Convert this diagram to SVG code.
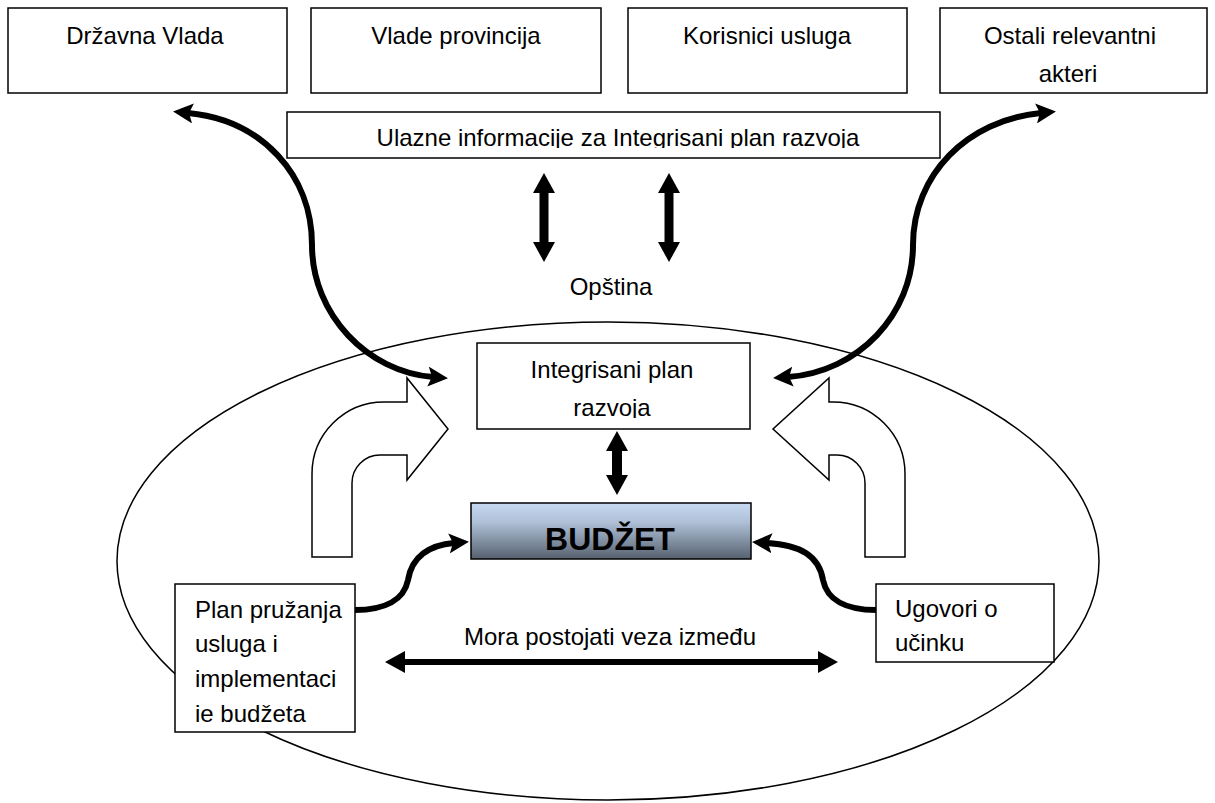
<svg xmlns="http://www.w3.org/2000/svg" width="1215" height="803" viewBox="0 0 1215 803">
<style>
.box{fill:#fff;stroke:#000;stroke-width:1.5}
.t{font-family:"Liberation Sans",Arial,sans-serif;font-size:24px;fill:#000}
.c{text-anchor:middle}
.thick{fill:none;stroke:#000;stroke-width:6}
.blk{fill:#fff;stroke:#000;stroke-width:1.5;stroke-linejoin:miter}
.ell{fill:none;stroke:#000;stroke-width:1.5}
</style>
<defs>
<marker id="ah" markerUnits="userSpaceOnUse" markerWidth="20" markerHeight="20" viewBox="0 0 20 20" refX="5" refY="10" orient="auto-start-reverse">
<path d="M0,0 L20,10 L0,20 L4,10 Z" fill="#000"/>
</marker>
<marker id="dv" markerUnits="userSpaceOnUse" markerWidth="20" markerHeight="22" viewBox="0 0 20 22" refX="2" refY="11" orient="auto-start-reverse">
<path d="M0,0 L20,11 L0,22 Z" fill="#000"/>
</marker>
<linearGradient id="bg" x1="0" y1="0" x2="0" y2="1">
<stop offset="0" stop-color="#c6d9f1"/>
<stop offset="0.35" stop-color="#aebfd6"/>
<stop offset="1" stop-color="#56616f"/>
</linearGradient>
<clipPath id="clipU"><rect x="287" y="112" width="653" height="36"/></clipPath>
<clipPath id="clipI"><rect x="477" y="343" width="273" height="75"/></clipPath>
</defs>

<g id="opstina-ellipse">
<ellipse class="ell" cx="608" cy="561" rx="491" ry="239"/>
<text class="t c" x="611" y="295">Opština</text>
</g>

<g id="drzavna-vlada">
<rect class="box" x="8" y="8" width="279" height="85"/>
<text class="t c" x="145" y="44">Državna Vlada</text>
</g>
<g id="vlade-provincija">
<rect class="box" x="311" y="8" width="290" height="85"/>
<text class="t c" x="456" y="44">Vlade provincija</text>
</g>
<g id="korisnici-usluga">
<rect class="box" x="628" y="8" width="279" height="85"/>
<text class="t c" x="767" y="44">Korisnici usluga</text>
</g>
<g id="ostali-akteri">
<rect class="box" x="940" y="8" width="267" height="85"/>
<text class="t c" x="1070" y="44">Ostali relevantni</text>
<text class="t c" x="1068" y="82">akteri</text>
</g>

<g id="ulazne-informacije">
<rect class="box" x="287" y="112" width="653" height="46"/>
<text class="t c" x="618" y="146" clip-path="url(#clipU)">Ulazne informacije za Integrisani plan razvoja</text>
</g>

<g id="integrisani-plan">
<rect class="box" x="477" y="343" width="273" height="86"/>
<g clip-path="url(#clipI)">
<text class="t c" x="612" y="378">Integrisani plan</text>
<text class="t c" x="612" y="416">razvoja</text>
</g>
</g>

<g id="budzet">
<rect x="471" y="503" width="280" height="56" fill="url(#bg)" stroke="#000" stroke-width="1.5"/>
<text x="610" y="550" text-anchor="middle" font-family="'Liberation Sans',Arial,sans-serif" font-weight="bold" font-size="32" fill="#000">BUDŽET</text>
</g>

<g id="plan-pruzanja">
<rect class="box" x="175" y="584" width="180" height="148"/>
<text class="t" x="195" y="618">Plan pružanja</text>
<text class="t" x="195" y="652">usluga i</text>
<text class="t" x="195" y="687">implementaci</text>
<text class="t" x="195" y="722">ie budžeta</text>
</g>

<g id="ugovori">
<rect class="box" x="876" y="584" width="178" height="78"/>
<text class="t" x="895" y="617">Ugovori o</text>
<text class="t" x="895" y="651">učinku</text>
</g>

<g id="mora-label">
<text class="t c" x="610" y="645">Mora postojati veza između</text>
</g>

<g id="connectors">
<path class="thick" d="M188,113 C262,120 312,175 312,245 C312,315 368,372 433,377" marker-start="url(#ah)" marker-end="url(#ah)"/>
<path class="thick" d="M1041,113 C967,120 913,175 913,245 C913,315 858,372 788,377" marker-start="url(#ah)" marker-end="url(#ah)"/>
<path class="thick" d="M355,610 C385,610 404,600 408,580 C412,556 430,545 454,543" marker-end="url(#ah)"/>
<path class="thick" d="M876,610 C846,610 827,600 823,580 C819,556 801,545 767,543" marker-end="url(#ah)"/>
<line x1="544" y1="191" x2="544" y2="244" stroke="#000" stroke-width="9" marker-start="url(#dv)" marker-end="url(#dv)"/>
<line x1="669" y1="191" x2="669" y2="244" stroke="#000" stroke-width="9" marker-start="url(#dv)" marker-end="url(#dv)"/>
<line x1="617" y1="449" x2="617" y2="477" stroke="#000" stroke-width="10" marker-start="url(#dv)" marker-end="url(#dv)"/>
<line x1="403" y1="662" x2="820" y2="662" stroke="#000" stroke-width="6" marker-start="url(#dv)" marker-end="url(#dv)"/>
</g>

<g id="block-arrows">
<path class="blk" d="M312,557 L312,474 A72,72 0 0 1 384,402 L407,402 L407,378 L448,429 L407,480 L407,455 L380,455 A28,28 0 0 0 352,483 L352,557 Z"/>
<path class="blk" d="M905,557 L905,474 A72,72 0 0 0 833,402 L829,402 L829,378 L773,429 L829,480 L829,455 L837,455 A28,28 0 0 1 865,483 L865,557 Z"/>
</g>
</svg>
